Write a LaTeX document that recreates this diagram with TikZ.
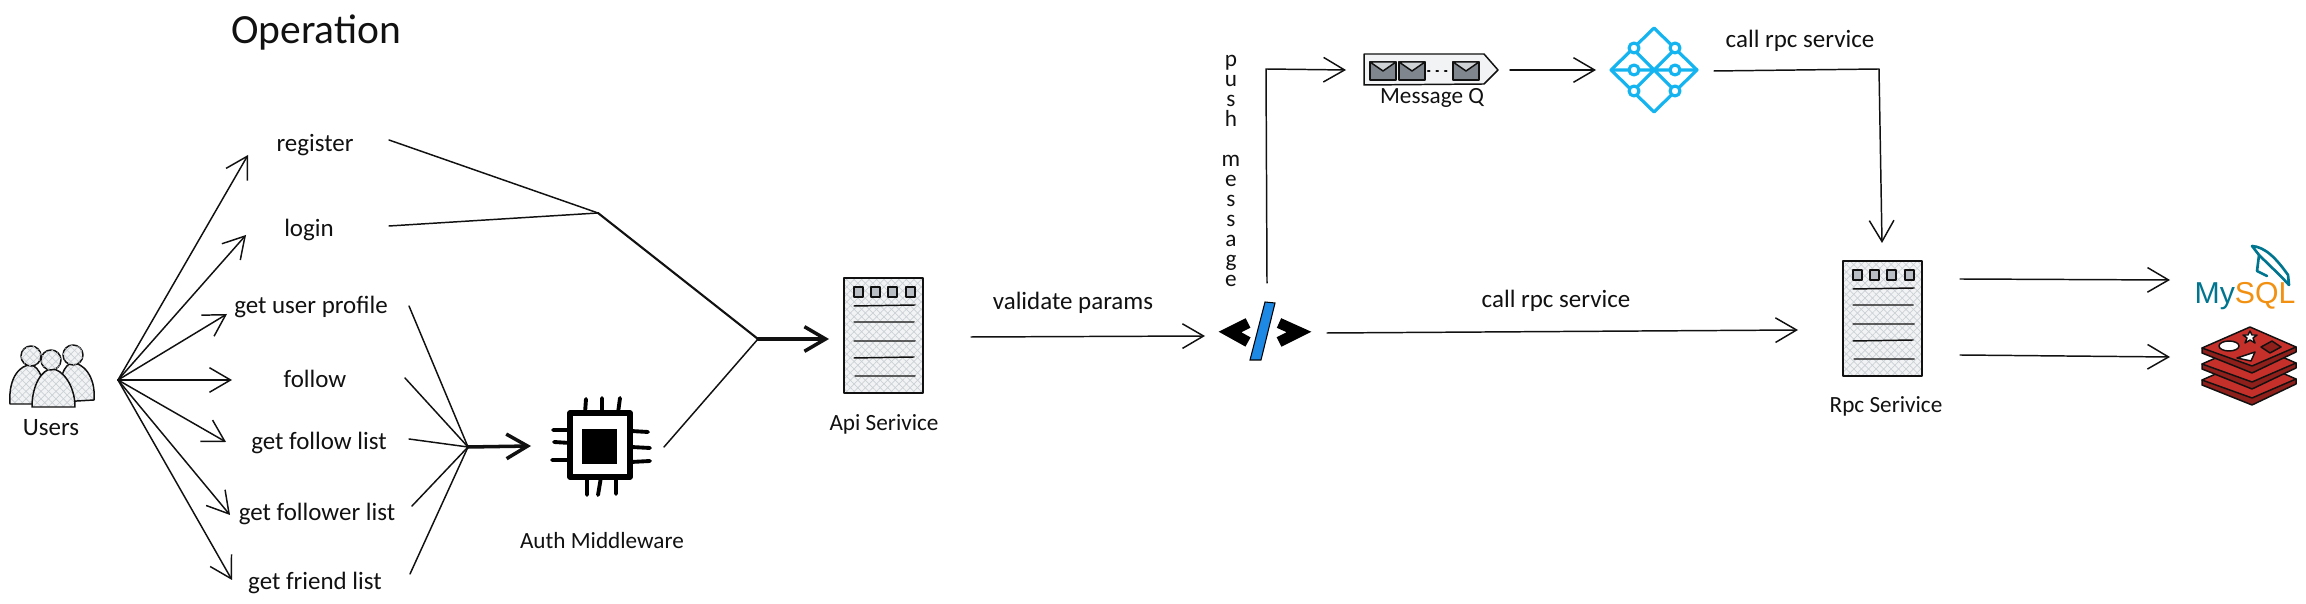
\documentclass[tikz,border=0pt]{standalone}
\usepackage{fontspec}
\usepackage{xcolor}
\setmainfont{Carlito}
\newfontfamily\logofont{Liberation Sans}
\usetikzlibrary{arrows.meta,patterns.meta}
\definecolor{ink}{HTML}{111111}
\definecolor{hatch}{HTML}{B8BEC4}
\definecolor{hatchlight}{HTML}{CBD0D5}
\definecolor{panel}{HTML}{F2F3F4}
\definecolor{mailgrey}{HTML}{7F868D}
\definecolor{mqblue}{HTML}{14B4F0}
\definecolor{slash}{HTML}{1E88E5}
\definecolor{myteal}{HTML}{00758F}
\definecolor{myorange}{HTML}{F29111}
\definecolor{redis}{HTML}{C6302B}
\definecolor{redisdark}{HTML}{8E1F1A}
\tikzset{
  line/.style={draw=ink, line width=0.42pt, line cap=round, line join=round},
  arr/.style={line, -{Straight Barb[length=6pt,width=7pt]}},
  bold/.style={draw=ink, line width=1pt, line cap=round, -{Straight Barb[length=6pt,width=7pt]}},
  lab/.style={text=ink, font=\fontsize{7.1}{8}\selectfont, inner sep=0pt},
  labs/.style={text=ink, font=\fontsize{6.6}{8}\selectfont, inner sep=0pt},
  big/.style={text=ink, font=\fontsize{11.8}{13}\selectfont, inner sep=0pt},
  cross/.style={fill=panel, postaction={pattern={Lines[angle=45,distance=1.5pt,line width=0.2pt]}, pattern color=hatchlight},
    postaction={pattern={Lines[angle=-45,distance=1.5pt,line width=0.2pt]}, pattern color=hatchlight}},
  pin/.style={draw=black, line width=1.1pt, line cap=round},
  mq/.style={draw=mqblue, line width=0.9pt, line join=round},
  tagline/.style={draw=black, line width=3pt, miter limit=4},
  dolphin/.style={draw=myteal, line width=0.75pt, line cap=round, line join=round},
  server/.pic={
    \path[cross] (0,0) rectangle (79,115);
    \draw[line] (0,0) rectangle (79,115);
    \draw[line, fill=hatch] (10,9) rectangle (19,19);
    \draw[line, fill=hatch] (27,9) rectangle (36,19);
    \draw[line, fill=hatch] (44,9) rectangle (53,19);
    \draw[line, fill=hatch] (62,9) rectangle (71,19);
    \draw[line] (10,28)--(71,27) (10,44)--(70,44) (10,63)--(71,63) (10,80)--(70,79) (11,98)--(71,98);
  },
  mail/.pic={
    \draw[line, fill=mailgrey] (0,0) rectangle (26,18);
    \draw[line, fill=panel!70!mailgrey] (0,0)--(13,9)--(26,0)--cycle;
  },
  rediscake/.pic={
    \fill[redisdark] (0,21)--(0,26)--(50,46)--(94,25)--(94,20)--cycle;
    \draw[line, fill=redis] (0,21)--(48,0)--(94,20)--(50,39)--cycle;
    \draw[line] (0,21)--(0,26)--(50,46)--(94,25)--(94,20);
  },
}
\begin{document}
\begin{tikzpicture}[x=0.01cm,y=-0.01cm]
  \useasboundingbox (0,0) rectangle (2306,604);
  % labels
  \node[big] (operation) at (316,33) {Operation};
  \node[lab] (register) at (315,145) {register};
  \node[lab] (login) at (309,230) {login};
  \node[lab] (profile) at (311,307) {get user profile};
  \node[lab] (follow) at (315,379) {follow};
  \node[lab] (followlist) at (319,443) {get follow list};
  \node[lab] (followerlist) at (317,514) {get follower list};
  \node[lab] (friendlist) at (315,583) {get friend list};
  \node[lab] (users) at (51,428) {Users};
  \node[labs] (auth) at (602,541) {Auth Middleware};
  \node[labs] (api) at (884,424) {Api Serivice};
  \node[lab] (validate) at (1073,303) {validate params};
  \node[lab] (callrpc) at (1556,301) {call rpc service};
  \node[lab] (callmq) at (1800,41) {call rpc service};
  \node[labs] (rpc) at (1886,406) {Rpc Serivice};
  \node[labs] (mqlab) at (1432,98) {Message Q};
  \node[lab, align=center, font=\fontsize{6.6}{5.67}\selectfont] (push) at (1231,171)
    {p\\u\\s\\h\\[5.67pt]m\\e\\s\\s\\a\\g\\e};

  % users
  \path[cross] (10,404) .. controls (8,375) and (22,365) .. (30,365) .. controls (40,365) and (46,385) .. (46,404) -- cycle;
  \draw[line] (10,404) .. controls (8,375) and (22,365) .. (30,365) .. controls (40,365) and (46,385) .. (46,404) -- cycle;
  \path[cross] (60,402) -- (94,400) .. controls (96,375) and (82,363) .. (73,363) .. controls (64,363) and (58,380) .. (60,402) -- cycle;
  \draw[line] (60,402) -- (94,400) .. controls (96,375) and (82,363) .. (73,363) .. controls (64,363) and (58,380) .. (60,402) -- cycle;
  \path[fill=white] (32,407) .. controls (32,385) and (42,369) .. (52,369) .. controls (62,369) and (75,385) .. (75,407) -- cycle;
  \path[cross] (32,407) .. controls (32,385) and (42,369) .. (52,369) .. controls (62,369) and (75,385) .. (75,407) -- cycle;
  \draw[line] (32,407) .. controls (32,385) and (42,369) .. (52,369) .. controls (62,369) and (75,385) .. (75,407) -- cycle;
  \draw[line, cross] (31,356) circle[radius=10];
  \draw[line, cross] (73,355) circle[radius=10];
  \draw[line, cross] (51,360) circle[radius=10];

  % users to operations
  \coordinate (U) at (118,380);
  \coordinate (Ua) at (248,155);
  \coordinate (Ub) at (246,235);
  \coordinate (Uc) at (227,314);
  \coordinate (Ud) at (232,380);
  \coordinate (Ue) at (226,442);
  \coordinate (Uf) at (230,515);
  \coordinate (Ug) at (232,580);
  \draw[arr] (U)--(Ua);
  \draw[arr] (U)--(Ub);
  \draw[arr] (U)--(Uc);
  \draw[arr] (U)--(Ud);
  \draw[arr] (U)--(Ue);
  \draw[arr] (U)--(Uf);
  \draw[arr] (U)--(Ug);

  % operations to api
  \coordinate (Ra) at (389,140);
  \coordinate (Rb) at (389,226);
  \coordinate (Rj) at (598,213);
  \coordinate (J) at (758,339);
  \coordinate (Ai) at (829,339);
  \draw[line] (Ra)--(Rj);
  \draw[line] (Rb)--(Rj);
  \draw[line, line width=0.6pt] (Rj)--(J);
  \draw[bold] (J)--(Ai);

  % operations to auth
  \coordinate (Aa) at (409,306);
  \coordinate (Ab) at (405,378);
  \coordinate (Ac) at (409,439);
  \coordinate (Ad) at (412,506);
  \coordinate (Ae) at (410,574);
  \coordinate (H) at (468,447);
  \coordinate (Ci) at (531,446);
  \coordinate (Co) at (664,447);
  \draw[line] (Aa)--(H);
  \draw[line] (Ab)--(H);
  \draw[line] (Ac)--(H);
  \draw[line] (Ad)--(H);
  \draw[line] (Ae)--(H);
  \draw[bold] (H)--(Ci);
  \draw[line] (Co)--(J);

  % chip
  \draw[draw=black, line width=1.5pt, line join=round] (570,413) rectangle (630,477);
  \fill[black] (582,429) rectangle (617,464);
  \draw[pin] (585,413)--(586,399) (602,413)--(602,398) (618,413)--(620,398);
  \draw[pin] (587,477)--(587,495) (601,477)--(598,495) (616,477)--(616,494);
  \draw[pin] (570,430)--(553,430) (570,443)--(554,442) (570,460)--(552,460);
  \draw[pin] (631,431)--(648,432) (631,447)--(650,448) (631,462)--(650,461);

  % api service
  \pic at (844,278) {server};
  \coordinate (Va) at (971,337);
  \coordinate (Vb) at (1205,336);
  \draw[arr] (Va)--(Vb);

  % code tag
  \draw[tagline] (1248,323)--(1230,332)--(1248,342);
  \draw[tagline] (1279,323)--(1299,332)--(1279,342);
  \draw[draw=black, line width=0.3pt, fill=slash] (1265,302)--(1275,303)--(1261,360)--(1250,360)--cycle;

  % push message
  \coordinate (Pa) at (1267,283);
  \coordinate (Pb) at (1266,69);
  \coordinate (Pc) at (1346,70);
  \draw[arr] (Pa)--(Pb)--(Pc);

  % message queue
  \draw[line, fill=panel] (1364,54)--(1484,54)--(1498,70)--(1484,84)--(1364,85)--cycle;
  \pic at (1370,62) {mail};
  \pic at (1399,62) {mail};
  \pic at (1453,62) {mail};
  \draw[line, dotted, line width=0.7pt] (1428,71)--(1452,71);
  \coordinate (Qa) at (1510,70);
  \coordinate (Qb) at (1596,70);
  \draw[arr] (Qa)--(Qb);

  % blue diamond
  \draw[mq] (1654,28)--(1697,70)--(1654,112)--(1611,70)--cycle;
  \draw[mq] (1633,49)--(1675,91) (1675,49)--(1633,91) (1611,70)--(1697,70);
  \draw[mq, fill=white] (1634,48) circle[radius=5];
  \draw[mq, fill=white] (1675,48) circle[radius=5];
  \draw[mq, fill=white] (1634,70) circle[radius=5];
  \draw[mq, fill=white] (1675,70) circle[radius=5];
  \draw[mq, fill=white] (1634,91) circle[radius=5];
  \draw[mq, fill=white] (1675,91) circle[radius=5];

  % to rpc service
  \coordinate (Ma) at (1714,71);
  \coordinate (Mb) at (1879,69);
  \coordinate (Mc) at (1882,243);
  \draw[arr] (Ma)--(Mb)--(Mc);
  \coordinate (Ca) at (1327,333);
  \coordinate (Cb) at (1798,330);
  \draw[arr] (Ca)--(Cb);
  \pic at (1843,261) {server};

  % to stores
  \coordinate (Da) at (1960,279);
  \coordinate (Db) at (2170,280);
  \coordinate (Dc) at (1960,355);
  \coordinate (Dd) at (2170,357);
  \draw[arr] (Da)--(Db);
  \draw[arr] (Dc)--(Dd);

  % mysql
  \node[inner sep=0pt, font=\logofont\fontsize{8.6}{9}\selectfont] (mysql) at (2245,296)
    {\textcolor{myteal}{My}\textcolor{myorange}{SQL}};
  \draw[dolphin] (2252,246) .. controls (2265,247) and (2276,258) .. (2288,275) -- (2289,285) .. controls (2282,277) and (2268,264) .. (2259,255) -- cycle;
  \draw[dolphin] (2259,255)--(2257,271)--(2267,276);

  % redis
  \pic at (2202,359) {rediscake};
  \pic at (2202,343) {rediscake};
  \pic at (2202,327) {rediscake};
  \draw[line, fill=white] (2229,346) ellipse[x radius=10, y radius=5];
  \draw[line, fill=white] (2250,331)--(2252,335)--(2257,335)--(2253,338)--(2255,343)--(2250,340)--(2245,343)--(2247,338)--(2243,335)--(2248,335)--cycle;
  \draw[line, fill=redisdark] (2261,347)--(2272,341)--(2281,347)--(2270,353)--cycle;
  \draw[line, fill=white] (2237,358)--(2255,352)--(2251,361)--cycle;
\end{tikzpicture}
\end{document}
